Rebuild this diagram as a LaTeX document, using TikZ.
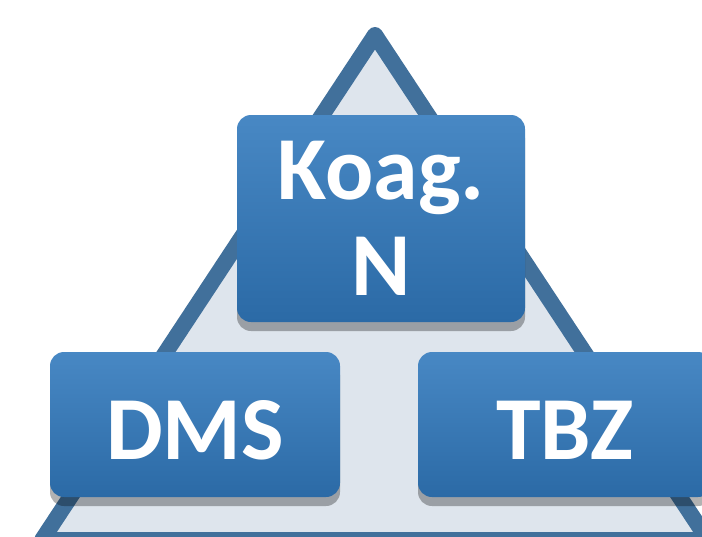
\documentclass[tikz,border=0pt]{standalone}
\usepackage{fontspec}
\setmainfont{Carlito}
\usetikzlibrary{shadows}

\definecolor{hrana}{RGB}{65,112,155}
\definecolor{vypln}{RGB}{222,229,237}
\definecolor{modra1}{RGB}{72,136,196}
\definecolor{modra2}{RGB}{43,106,166}

\tikzset{
  blok/.style={rounded corners=14pt, top color=modra1, bottom color=modra2,
    text=white, font=\bfseries\fontsize{90}{96}\selectfont, align=center,
    inner sep=0pt,
    drop shadow={shadow xshift=0pt, shadow yshift=-9pt, opacity=0.3, fill=black}},
  dolni/.style={blok, minimum height=145pt, text height=70pt, text depth=0pt}
}

\begin{document}
\begin{tikzpicture}[x=1pt,y=-1pt]
        \useasboundingbox (0,0) rectangle (702,536);

        % trojúhelník
        \draw[hrana, fill=vypln, line width=16pt, line join=round]
        (375,35) coordinate (A)
        -- (708,540) coordinate (B)
        -- (42,540) coordinate (C)
        -- cycle;

        % bloky
        \node[blok, minimum width=288pt, minimum height=207pt] (koag) at (381,218.5) {Koag.\\N};
        \node[dolni, minimum width=290pt] (dms) at (195,424.5) {DMS};
        \node[dolni, minimum width=294pt] (tbz) at (565,424.5) {TBZ};
    \end{tikzpicture}
\end{document}
